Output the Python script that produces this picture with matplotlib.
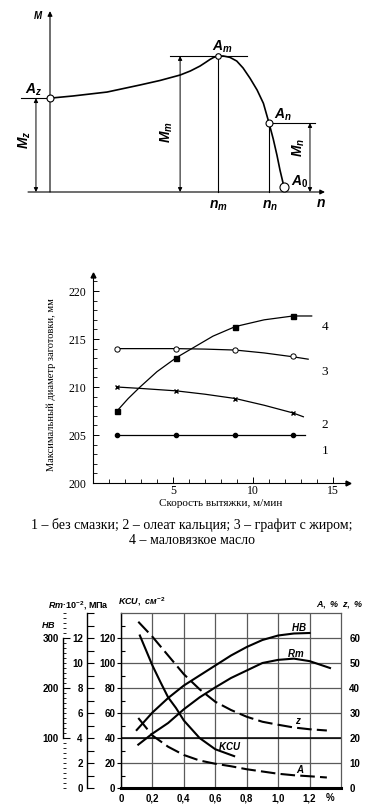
import numpy as np
import matplotlib
matplotlib.use('Agg')
import matplotlib.pyplot as plt
from matplotlib.ticker import FixedLocator, MultipleLocator

W, H = 385, 806
SANS = ['Liberation Sans', 'DejaVu Sans']
SERIF = ['Liberation Serif', 'DejaVu Serif']

plt.rcParams['font.family'] = SANS
plt.rcParams['mathtext.fontset'] = 'custom'
plt.rcParams['mathtext.it'] = 'Liberation Sans:italic:bold'
plt.rcParams['mathtext.rm'] = 'Liberation Sans:bold'
plt.rcParams['mathtext.bf'] = 'Liberation Sans:bold'

# ---------- panel 1: M(n) characteristic ----------
pt_names = ['z', 'm', 'n', '0']
pt_n = [0.0, 0.718, 0.936, 1.0]
pt_M = [0.69, 1.0, 0.507, 0.037]
curve_n = [0.0, 0.098, 0.244, 0.385, 0.47, 0.556, 0.60, 0.641, 0.665, 0.684, 0.70, 0.718,
           0.741, 0.769, 0.798, 0.825, 0.855, 0.885, 0.912, 0.936, 0.954, 0.970, 0.983, 1.0]
curve_M = [0.69, 0.706, 0.735, 0.787, 0.82, 0.86, 0.89, 0.926, 0.953, 0.975, 0.99, 1.0,
           1.0, 0.99, 0.963, 0.912, 0.836, 0.75, 0.652, 0.507, 0.39, 0.27, 0.16, 0.037]

# ---------- panel 2: max blank diameter vs drawing speed ----------
speed = [1.5, 5.2, 8.9, 12.5]
diam = {
    '1': [205.0, 205.0, 205.0, 205.0],
    '2': [210.0, 209.6, 208.8, 207.3],
    '3': [214.0, 214.0, 213.9, 213.2],
    '4': [207.5, 213.0, 216.3, 217.4],
}
fit_x = {
    '1': [1.5, 13.25],
    '2': [1.5, 3.0, 5.2, 7.0, 8.9, 10.7, 12.5, 13.15],
    '3': [1.5, 5.2, 7.0, 8.9, 10.7, 12.5, 13.45],
    '4': [1.5, 2.2, 2.94, 4.0, 5.2, 6.17, 7.5, 8.9, 10.7, 12.5, 13.67],
}
fit_y = {
    '1': [205.0, 205.0],
    '2': [210.0, 209.85, 209.6, 209.25, 208.8, 208.1, 207.3, 206.9],
    '3': [214.0, 214.0, 213.95, 213.85, 213.55, 213.15, 212.9],
    '4': [207.5, 208.8, 210.0, 211.6, 213.05, 214.0, 215.3, 216.3, 217.0, 217.4, 217.4],
}
curve_lbl_y = {'4': 216.25, '3': 211.6, '2': 206.0, '1': 203.3}
caption = ['1 – без смазки; 2 – олеат кальция; 3 – графит с жиром;',
           '4 – маловязкое масло']

# ---------- panel 3: properties vs C content ----------
x_hb = [0.1, 0.2, 0.3, 0.4, 0.5, 0.6, 0.7, 0.8, 0.9, 1.0, 1.1, 1.2]
hb = [116, 151, 180, 205, 225, 245, 265, 282, 296, 305, 309, 310]
x_rm = [0.11, 0.2, 0.3, 0.4, 0.5, 0.6, 0.7, 0.8, 0.9, 1.0, 1.1, 1.2, 1.33]
rm = [3.47, 4.35, 5.2, 6.3, 7.25, 8.05, 8.8, 9.4, 10.0, 10.25, 10.35, 10.15, 9.6]
x_kcu = [0.12, 0.2, 0.25, 0.3, 0.35, 0.4, 0.5, 0.6, 0.72]
kcu = [122, 98, 85, 72.5, 64, 54, 40, 31, 25.5]
x_za = [0.11, 0.2, 0.3, 0.4, 0.5, 0.6, 0.7, 0.8, 0.9, 1.0, 1.1, 1.2, 1.31]
z_pct = [66.5, 60.5, 53, 45.5, 39.5, 34.5, 31.2, 28.5, 26.5, 25.3, 24.2, 23.5, 23]
a_pct = [28, 21, 16.5, 13.2, 11, 9.7, 8.7, 7.5, 6.6, 5.7, 5.1, 4.7, 4.2]
c_ticks = [0, 0.2, 0.4, 0.6, 0.8, 1.0, 1.2]
c_labels = ['0', '0,2', '0,4', '0,6', '0,8', '1,0', '1,2']


def px_rect(x0, y0, x1, y1):
    return [x0 / W, 1 - y1 / H, (x1 - x0) / W, (y1 - y0) / H]


fig = plt.figure(figsize=(W / 100, H / 100), dpi=100)

# ================= panel 1 =================
ax1 = fig.add_axes(px_rect(0, 0, W, 215))
ax1.set_xlim(-50 / 234, 335 / 234)
ax1.set_ylim(-23 / 136, 192 / 136)
ax1.axis('off')

arr = dict(arrowstyle='-|>', lw=0.8, color='k', mutation_scale=7, shrinkA=0, shrinkB=0)
ax1.annotate('', xy=(0, 1.33), xytext=(0, 0), arrowprops=arr)
ax1.annotate('', xy=(1.175, 0), xytext=(-0.094, 0), arrowprops=arr)

ax1.plot([pt_n[1], pt_n[1]], [0, pt_M[1]], color='k', lw=0.8)
ax1.plot([pt_n[2], pt_n[2]], [0, pt_M[2]], color='k', lw=0.8)
ax1.plot([-0.124, pt_n[0]], [pt_M[0], pt_M[0]], color='k', lw=0.8)
ax1.plot([0.513, 0.842], [pt_M[1], pt_M[1]], color='k', lw=0.8)
ax1.plot([pt_n[2], 1.132], [pt_M[2], pt_M[2]], color='k', lw=0.8)

darr = dict(arrowstyle='<|-|>', lw=0.7, color='k', mutation_scale=6, shrinkA=0, shrinkB=0)
for xa, top in [(-0.06, pt_M[0]), (0.556, pt_M[1]), (1.111, pt_M[2])]:
    ax1.annotate('', xy=(xa, top), xytext=(xa, 0), arrowprops=darr)

ax1.plot(curve_n, curve_M, color='k', lw=1.2)
for name, n, m, s in zip(pt_names, pt_n, pt_M, [5, 4, 5, 6.5]):
    ax1.plot(n, m, 'o', ms=s, mfc='white', mec='k', mew=0.8, zorder=5)

lbl_kw = dict(ha='center', va='center', fontsize=10)
ax1.text(-0.072, 0.75, r'$A_z$', **lbl_kw)
ax1.text(0.735, 1.07, r'$A_m$', **lbl_kw)
ax1.text(0.996, 0.566, r'$A_n$', **lbl_kw)
ax1.text(1.068, 0.074, r'$A_{\mathit{0}}$', **lbl_kw)
ax1.text(-0.051, 1.30, r'$M$', ha='center', va='center', fontsize=7)
ax1.text(0.718, -0.105, r'$n_m$', **lbl_kw)
ax1.text(0.94, -0.105, r'$n_n$', **lbl_kw)
ax1.text(1.158, -0.083, r'$n$', **lbl_kw)
ax1.text(-0.107, 0.382, r'$M_z$', rotation=90, **lbl_kw)
ax1.text(0.50, 0.441, r'$M_m$', rotation=90, **lbl_kw)
ax1.text(1.064, 0.324, r'$M_n$', rotation=90, **lbl_kw)

# ================= panel 2 =================
ax2 = fig.add_axes(px_rect(93, 275, 348, 483))
ax2.set_xlim(0, 15.94)
ax2.set_ylim(200, 221.67)
for s in ['top', 'right']:
    ax2.spines[s].set_visible(False)
for s in ['left', 'bottom']:
    ax2.spines[s].set_linewidth(0.8)
ax2.plot(1, 200, '>k', ms=3.5, transform=ax2.get_yaxis_transform(), clip_on=False)
ax2.plot(0, 1, '^k', ms=3.5, transform=ax2.get_xaxis_transform(), clip_on=False)
ax2.xaxis.set_major_locator(FixedLocator([5, 10, 15]))
ax2.xaxis.set_minor_locator(MultipleLocator(1))
ax2.yaxis.set_major_locator(FixedLocator([200, 205, 210, 215, 220]))
ax2.yaxis.set_minor_locator(MultipleLocator(1))
ax2.tick_params(which='major', direction='in', length=4, width=0.7, labelsize=8.5, pad=1.5)
ax2.tick_params(axis='y', which='major', pad=5)
ax2.tick_params(which='minor', direction='in', length=3, width=0.6)
for lab in ax2.get_xticklabels() + ax2.get_yticklabels():
    lab.set_family(SERIF)

mk = {'1': dict(marker='o', ms=3, mfc='k'),
      '2': dict(marker='x', ms=3.5, mew=1.0),
      '3': dict(marker='o', ms=3.8, mfc='white', mew=0.7),
      '4': dict(marker='s', ms=3.6, mfc='k')}
for key in ['1', '2', '3', '4']:
    ax2.plot(fit_x[key], fit_y[key], color='k', lw=0.9)
    ax2.plot(speed, diam[key], ls='none', color='k', mec='k', **mk[key])
    ax2.text(14.5, curve_lbl_y[key], key, ha='center', va='center',
             fontsize=9.5, family=SERIF)

fig.text(51 / W, 1 - 385 / H, 'Максимальный диаметр заготовки, мм', rotation=90,
         ha='center', va='center', fontsize=7.5, family=SERIF)
fig.text(221 / W, 1 - 504 / H, 'Скорость вытяжки, м/мин', ha='center', va='center',
         fontsize=8, family=SERIF)
fig.text(192 / W, 1 - 525 / H, caption[0], ha='center', va='center', fontsize=10, family=SERIF)
fig.text(192 / W, 1 - 540 / H, caption[1], ha='center', va='center', fontsize=10, family=SERIF)

# ================= panel 3 =================
rect3 = px_rect(121, 613, 341, 788)
ax3 = fig.add_axes(rect3)
ax3.set_xlim(0, 1.4)
ax3.set_ylim(0, 140)
ax3.xaxis.set_major_locator(FixedLocator(c_ticks))
ax3.set_xticklabels(c_labels)
ax3.yaxis.set_major_locator(FixedLocator(range(0, 121, 20)))
ax3.yaxis.set_minor_locator(FixedLocator(range(10, 140, 20)))
ax3.tick_params(axis='x', length=0, pad=4, labelsize=7)
ax3.tick_params(axis='y', which='major', direction='out', length=3, width=0.8, pad=1, labelsize=7)
ax3.tick_params(axis='y', which='minor', direction='in', length=3, width=0.8)
for lab in ax3.get_xticklabels() + ax3.get_yticklabels():
    lab.set_fontweight('bold')
ax3.grid(True, which='major', color='#5a5a5a', lw=0.9)
ax3.set_axisbelow(True)
ax3.axhline(40, color='k', lw=1.1, zorder=1.5)
for s in ['top', 'right']:
    ax3.spines[s].set_color('#5a5a5a')
    ax3.spines[s].set_linewidth(0.9)
ax3.spines['left'].set_linewidth(1.0)
ax3.spines['bottom'].set_linewidth(2.2)
ax3.text(1.33, -4, '%', transform=ax3.transData, ha='center', va='top',
         fontsize=7, fontweight='bold', clip_on=False)
ax3.plot(x_kcu, kcu, color='k', lw=1.5)

axr = ax3.twinx()
axr.set_ylim(0, 70)
axr.yaxis.set_major_locator(FixedLocator(range(0, 61, 10)))
axr.tick_params(axis='y', length=0, pad=6, labelsize=7)
for lab in axr.get_yticklabels():
    lab.set_fontweight('bold')
for s in axr.spines.values():
    s.set_visible(False)
dash = (0, (7, 2.5))
axr.plot(x_za, z_pct, color='k', lw=1.5, ls=dash)
axr.plot(x_za, a_pct, color='k', lw=1.5, ls=dash)

ax_hb = ax3.twinx()
ax_hb.set_ylim(0, 350)
ax_hb.axis('off')
ax_hb.plot(x_hb, hb, color='k', lw=1.5)

ax_rm = ax3.twinx()
ax_rm.set_ylim(0, 14)
ax_rm.axis('off')
ax_rm.plot(x_rm, rm, color='k', lw=1.5)

ax3.text(1.13, 129, r'$HB$', ha='center', va='center', fontsize=7)
ax3.text(1.11, 108, r'$Rm$', ha='center', va='center', fontsize=7)
ax3.text(1.13, 54, r'$z$', ha='center', va='center', fontsize=7)
ax3.text(1.14, 15, r'$A$', ha='center', va='center', fontsize=7)
ax3.text(0.69, 34, r'$KCU$', ha='center', va='center', fontsize=7)

# Rm scale
ax_rs = fig.add_axes(px_rect(87, 613, 88, 788))
ax_rs.set_ylim(0, 14)
ax_rs.set_xticks([])
for s in ['top', 'right', 'bottom']:
    ax_rs.spines[s].set_visible(False)
ax_rs.spines['left'].set_linewidth(1.0)
ax_rs.yaxis.set_major_locator(FixedLocator(range(0, 13, 2)))
ax_rs.yaxis.set_minor_locator(FixedLocator(list(range(1, 14, 2)) + [14]))
ax_rs.tick_params(axis='y', which='both', direction='in', length=5, width=0.8, pad=3, labelsize=7)
for lab in ax_rs.get_yticklabels():
    lab.set_fontweight('bold')

# HB scale
ax_hs = fig.add_axes(px_rect(63, 613, 64, 788))
ax_hs.set_ylim(0, 350)
ax_hs.set_xticks([])
for s in ['top', 'right', 'bottom']:
    ax_hs.spines[s].set_visible(False)
ax_hs.spines['left'].set_bounds(100, 300)
ax_hs.spines['left'].set_linewidth(1.0)
ax_hs.yaxis.set_major_locator(FixedLocator([100, 200, 300]))
ax_hs.yaxis.set_minor_locator(MultipleLocator(10))
ax_hs.tick_params(axis='y', which='major', direction='in', length=5, width=0.8, pad=3, labelsize=7)
ax_hs.tick_params(axis='y', which='minor', direction='in', length=2.5, width=0.6)
for lab in ax_hs.get_yticklabels():
    lab.set_fontweight('bold')

fig.text(48 / W, 1 - 625 / H, r'$HB$', ha='center', va='center', fontsize=6.5)
fig.text(79 / W, 1 - 606 / H, r'$Rm$·10$^{-2}$, МПа', ha='center', va='center',
         fontsize=6.5, fontweight='bold')
fig.text(142 / W, 1 - 602 / H, r'$KCU,\ см^{-2}$', ha='center', va='center',
         fontsize=6.5)
fig.text(340 / W, 1 - 605 / H, r'$A,$ %  $z,$ %', ha='center', va='center',
         fontsize=6.5, fontweight='bold', style='italic')

fig.savefig('out.png', dpi=100)
